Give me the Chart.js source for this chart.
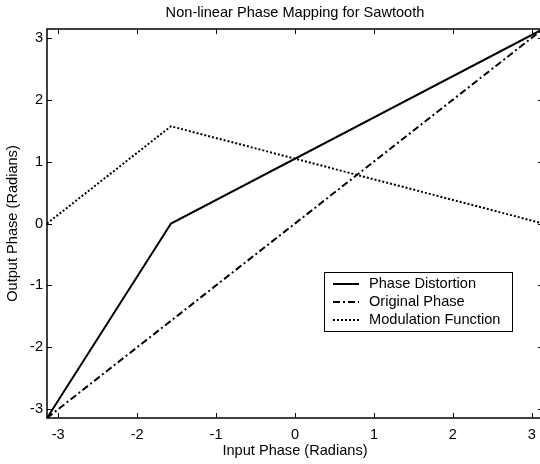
<!DOCTYPE html>
<html>
<head>
<meta charset="utf-8">
<script src="https://cdn.jsdelivr.net/npm/chart.js@4/dist/chart.umd.min.js"></script>
<style>
html,body{margin:0;padding:0;overflow:hidden;background:#fff;width:540px;height:464px;}
canvas{display:block;}
</style>
</head>
<body>
<canvas id="c" width="548" height="464"></canvas>
<script>
const chartTitle = "Non-linear Phase Mapping for Sawtooth";
const xAxisTitle = "Input Phase (Radians)";
const yAxisTitle = "Output Phase (Radians)";
const xTicks = [-3, -2, -1, 0, 1, 2, 3];
const yTicks = [-3, -2, -1, 0, 1, 2, 3];
const axisMin = -3.1416;
const axisMax = 3.1416;

const seriesNames = ["Phase Distortion", "Original Phase", "Modulation Function"];
const distortionX = [-3.1416, -1.5708, 3.1416];
const distortionY = [-3.1416, 0, 3.1416];
const originalX = [-3.1416, 3.1416];
const originalY = [-3.1416, 3.1416];
const modulationX = [-3.1416, -1.5708, 3.1416];
const modulationY = [0, 1.5708, 0];

const FONT = "'Liberation Sans', Arial, Helvetica, sans-serif";
const FS = 14.6;
const toPts = (xs, ys) => xs.map((x, i) => ({x: x, y: ys[i]}));

const framePlugin = {
  id: 'frame',
  afterDatasetsDraw(chart) {
    const ctx = chart.ctx;
    const a = chart.chartArea;
    const xs = chart.scales.x, ys = chart.scales.y;
    ctx.save();
    ctx.strokeStyle = '#000';
    ctx.lineWidth = 1.5;
    ctx.strokeRect(a.left, a.top, a.right - a.left, a.bottom - a.top);
    ctx.lineWidth = 1;
    const L = 5;
    xTicks.forEach(v => {
      const px = Math.round(xs.getPixelForValue(v)) + 0.5;
      ctx.beginPath();
      ctx.moveTo(px, a.bottom); ctx.lineTo(px, a.bottom - L);
      ctx.moveTo(px, a.top); ctx.lineTo(px, a.top + L);
      ctx.stroke();
    });
    yTicks.forEach(v => {
      const py = Math.round(ys.getPixelForValue(v)) + 0.5;
      ctx.beginPath();
      ctx.moveTo(a.left, py); ctx.lineTo(a.left + L, py);
      ctx.moveTo(a.right, py); ctx.lineTo(a.right - L, py);
      ctx.stroke();
    });
    // title
    ctx.fillStyle = '#000';
    ctx.font = FS + 'px ' + FONT;
    ctx.textAlign = 'center';
    ctx.textBaseline = 'middle';
    ctx.fillText(chartTitle, (a.left + a.right) / 2, 13);
    // legend
    const bx = 324, by = 272, bw = 188, bh = 59;
    ctx.fillStyle = '#fff';
    ctx.fillRect(bx, by, bw, bh);
    ctx.strokeStyle = '#000';
    ctx.lineWidth = 1;
    ctx.strokeRect(bx + 0.5, by + 0.5, bw, bh);
    chart.data.datasets.forEach((ds, i) => {
      const ry = 284 + i * 18;
      ctx.save();
      ctx.strokeStyle = ds.borderColor;
      ctx.lineWidth = ds.borderWidth;
      ctx.setLineDash(ds.borderDash || []);
      ctx.beginPath();
      ctx.moveTo(333, ry); ctx.lineTo(359, ry);
      ctx.stroke();
      ctx.restore();
      ctx.fillStyle = '#000';
      ctx.font = FS + 'px ' + FONT;
      ctx.textAlign = 'left';
      ctx.textBaseline = 'middle';
      ctx.fillText(ds.label, 369, ry);
    });
    ctx.restore();
  }
};

new Chart(document.getElementById('c'), {
  type: 'line',
  data: {
    datasets: [
      {label: seriesNames[0], data: toPts(distortionX, distortionY), borderColor: '#000', borderWidth: 2, pointRadius: 0, tension: 0, fill: false},
      {label: seriesNames[1], data: toPts(originalX, originalY), borderColor: '#000', borderWidth: 2, borderDash: [7, 3, 2, 3], pointRadius: 0, tension: 0, fill: false},
      {label: seriesNames[2], data: toPts(modulationX, modulationY), borderColor: '#000', borderWidth: 2, borderDash: [2, 2], pointRadius: 0, tension: 0, fill: false}
    ]
  },
  options: {
    responsive: false,
    animation: false,
    devicePixelRatio: 1,
    layout: {padding: {top: 29, right: 5, left: 0, bottom: 0}},
    plugins: {legend: {display: false}, title: {display: false}, tooltip: {enabled: false}},
    scales: {
      x: {
        type: 'linear', min: axisMin, max: axisMax,
        grid: {display: false, drawTicks: false},
        border: {display: false},
        afterBuildTicks: s => { s.ticks = xTicks.map(v => ({value: v})); },
        afterFit: s => { s.height = 46; },
        ticks: {color: '#000', font: {family: FONT, size: FS}, padding: 8, maxRotation: 0, callback: v => String(v)},
        title: {display: true, text: xAxisTitle, color: '#000', font: {family: FONT, size: FS}, padding: {top: 0, bottom: 4}}
      },
      y: {
        type: 'linear', min: axisMin, max: axisMax,
        grid: {display: false, drawTicks: false},
        border: {display: false},
        afterBuildTicks: s => { s.ticks = yTicks.map(v => ({value: v})); },
        afterFit: s => { s.width = 47; },
        ticks: {color: '#000', font: {family: FONT, size: FS}, padding: 4, callback: v => String(v)},
        title: {display: true, text: yAxisTitle, color: '#000', font: {family: FONT, size: FS}, padding: {top: 4, bottom: 0}}
      }
    }
  },
  plugins: [framePlugin]
});
</script>
</body>
</html>
